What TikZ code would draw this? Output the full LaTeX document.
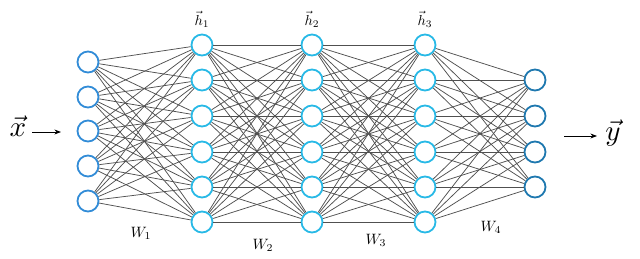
\documentclass[tikz,border=0pt]{standalone}
\usepackage{amssymb,amsmath}
\usepackage{tikz}
\usetikzlibrary{arrows.meta}

\definecolor{neuron}{RGB}{40,185,230}
\definecolor{neuronin}{RGB}{50,140,215}
\definecolor{neuronout}{RGB}{30,120,175}
\definecolor{synapse}{RGB}{80,80,80}

\tikzset{
	unit/.style={circle, draw=neuron, line width=1.8pt, fill=white, minimum size=21pt, inner sep=0pt},
	edge/.style={draw=synapse, line width=0.75pt},
	hlabel/.style={scale=1.45},
	wlabel/.style={scale=1.5},
	vlabel/.style={scale=2.9},
}

\begin{document}
\begin{tikzpicture}[x=1pt, y=-1pt, >=Stealth]
		\useasboundingbox (0,0) rectangle (640,258);
		% layers
		\foreach \i/\y in {1/62,2/97,3/131,4/166,5/201}
			\node[unit, draw=neuronin] (in\i) at (88,\y) {};
		\foreach \i/\y in {1/45,2/80,3/116,4/152,5/187,6/222} {
			\node[unit] (ha\i) at (202,\y) {};
			\node[unit] (hb\i) at (312,\y) {};
			\node[unit] (hc\i) at (425,\y) {};
		}
		\foreach \i/\y in {1/80,2/116,3/152,4/187}
			\node[unit, draw=neuronout] (out\i) at (535,\y) {};
		% weights between the layers
		\foreach \i in {1,...,5}
			\foreach \j in {1,...,6}
				\path[edge] (in\i) -- (ha\j);
		\foreach \i in {1,...,6}
			\foreach \j in {1,...,6} {
				\path[edge] (ha\i) -- (hb\j);
				\path[edge] (hb\i) -- (hc\j);
			}
		\foreach \i in {1,...,6}
			\foreach \j in {1,...,4}
				\path[edge] (hc\i) -- (out\j);
		% labels
		\node[hlabel] (h1) at (202,19) {$\vec{h}_1$};
		\node[hlabel] (h2) at (312,19) {$\vec{h}_2$};
		\node[hlabel] (h3) at (425,19) {$\vec{h}_3$};
		\node[wlabel] (w1) at (141,233) {$W_1$};
		\node[wlabel] (w2) at (263,245) {$W_2$};
		\node[wlabel] (w3) at (376,240) {$W_3$};
		\node[wlabel] (w4) at (491,227) {$W_4$};
		% input and output
		\node[vlabel] (xvec) at (18,126) {$\vec{x}$};
		\coordinate (xend) at (61,132);
		\draw[->, line width=0.8pt] (32,132) -- (xend);
		\node[vlabel] (yvec) at (613,133) {$\vec{y}$};
		\coordinate (ystart) at (564,136);
		\draw[->, line width=0.8pt] (ystart) -- (597,136);
	\end{tikzpicture}
\end{document}
